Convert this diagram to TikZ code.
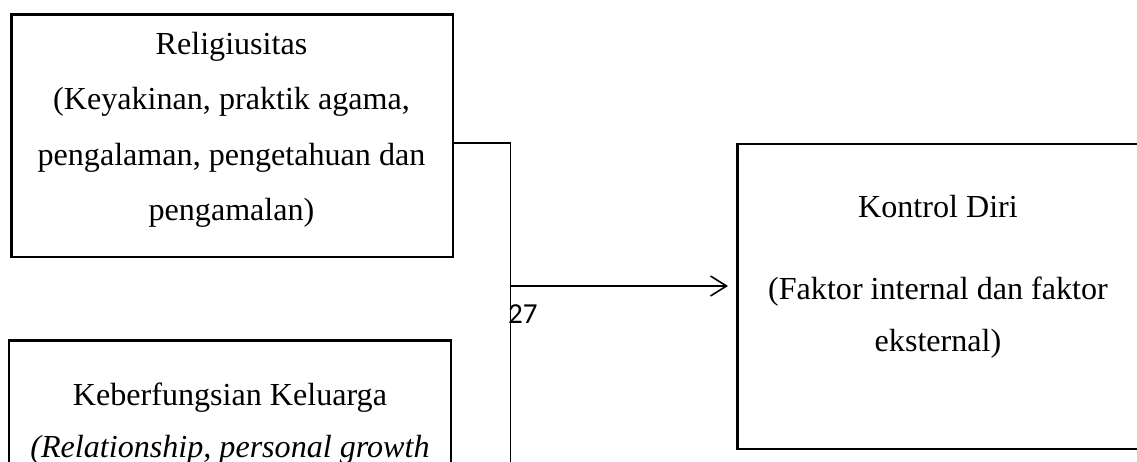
\documentclass[tikz,border=0pt]{standalone}
\usepackage{fontspec}
\setmainfont{Liberation Serif}
\newfontfamily\pagenumfont{Carlito}
\usetikzlibrary{arrows.meta}

\begin{document}
\begin{tikzpicture}[x=1pt, y=-1pt,
  box/.style={draw=black, line width=2.4pt, inner sep=0pt, outer sep=0pt},
  txt/.style={anchor=base, inner sep=0pt, font=\fontsize{32.1}{40}\selectfont},
  wire/.style={draw=black, line width=1.6pt},
  arrowtip/.style={-{Straight Barb[length=16pt, width=20pt]}}
]
\useasboundingbox (0,0) rectangle (1137,462);
\clip (0,0) rectangle (1137,462);

% boxes
\node[box, minimum width=441.2pt, minimum height=242.8pt] (rel) at (232.1,135.9) {};
\node[box, minimum width=442pt, minimum height=259.5pt] (kel) at (230,470.25) {};
\node[box, minimum width=401.7pt, minimum height=305pt] (kd) at (938.15,296.5) {};

% Religiusitas
\node[txt] (rel1) at (231.5,54.3) {Religiusitas};
\node[txt] (rel2) at (231.5,109.8) {(Keyakinan, praktik agama,};
\node[txt] (rel3) at (231.5,165.3) {pengalaman, pengetahuan dan};
\node[txt] (rel4) at (231.5,220.8) {pengamalan)};

% Keberfungsian Keluarga
\node[txt] (kel1) at (230,405) {Keberfungsian Keluarga};
\node[txt] (kel2) at (230,457.5) {\itshape (Relationship, personal growth};

% Kontrol Diri
\node[txt] (kd1) at (938,217.3) {Kontrol Diri};
\node[txt] (kd2) at (938,299.3) {(Faktor internal dan faktor};
\node[txt] (kd3) at (938,351.7) {eksternal)};

% connectors
\coordinate (j1) at (510.5,143);
\coordinate (j2) at (510.5,286);
\coordinate (jend) at (510.5,480);
\draw[wire] (j1 -| rel.east) -- (j1) -- (jend);
\draw[wire, arrowtip, shorten >=9.3pt] (j2) -- (kd.west |- j2);

% page number
\node[anchor=base west, inner sep=0pt, font=\pagenumfont\fontsize{29}{34}\selectfont] (pg) at (508,323.3) {27};
\end{tikzpicture}
\end{document}
